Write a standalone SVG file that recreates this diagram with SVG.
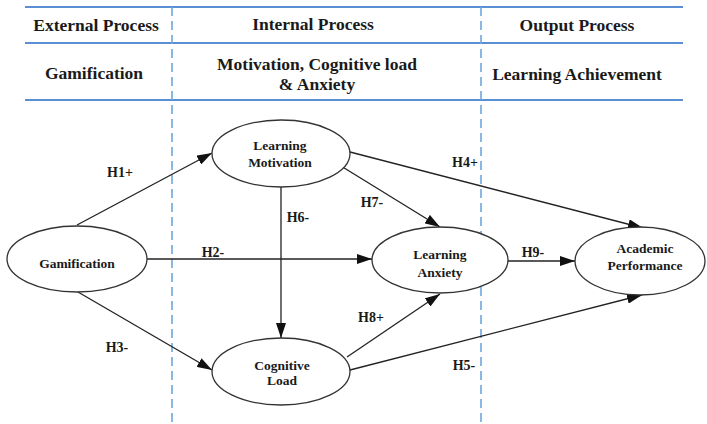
<svg xmlns="http://www.w3.org/2000/svg" width="707" height="424" viewBox="0 0 707 424">
  <style>
    .rule { stroke: #5b8fd4; stroke-width: 2; fill: none; }
    .divider { stroke: #6fa6dc; stroke-width: 1.6; stroke-dasharray: 9 5; fill: none; }
    text { font-family: 'Liberation Serif', 'DejaVu Serif', serif; font-weight: bold; fill: #1a1a1a; text-anchor: middle; }
    .head { font-size: 17.5px; }
    .node ellipse { fill: #ffffff; stroke: #333333; stroke-width: 1.3; }
    .node text { font-size: 13.5px; }
    .edge { stroke: #222222; stroke-width: 1.3; fill: none; marker-end: url(#arrow); }
    .lbl { font-size: 14px; }
  </style>
  <defs>
    <marker id="arrow" viewBox="0 0 15 10" refX="15" refY="5" markerWidth="15" markerHeight="10" markerUnits="userSpaceOnUse" orient="auto">
      <path d="M0,0 L15,5 L0,10 Z" fill="#111111"/>
    </marker>
  </defs>
  <rect width="707" height="424" fill="#ffffff"/>

  <!-- table rules and column titles -->
  <g id="table">
    <line class="rule" x1="25" y1="7" x2="683" y2="7"/>
    <line class="rule" x1="25" y1="43" x2="683" y2="43"/>
    <line class="rule" x1="25" y1="100" x2="683" y2="100"/>
    <line class="divider" x1="172" y1="7" x2="172" y2="424"/>
    <line class="divider" x1="481" y1="7" x2="481" y2="424"/>
    <text class="head" x="96" y="31">External Process</text>
    <text class="head" x="313" y="30">Internal Process</text>
    <text class="head" x="577" y="31">Output Process</text>
    <text class="head" x="94" y="79">Gamification</text>
    <text class="head" x="317" y="70">Motivation, Cognitive load</text>
    <text class="head" x="317" y="90">&amp; Anxiety</text>
    <text class="head" x="577" y="80">Learning Achievement</text>
  </g>

  <!-- connectors -->
  <g id="connectors">
    <line class="edge" x1="77" y1="225" x2="212" y2="153"/>
    <line class="edge" x1="146" y1="259" x2="372" y2="259"/>
    <line class="edge" x1="78" y1="292" x2="212" y2="370"/>
    <line class="edge" x1="281" y1="187" x2="281" y2="338"/>
    <line class="edge" x1="341" y1="166" x2="440" y2="227"/>
    <line class="edge" x1="350" y1="152" x2="643" y2="228"/>
    <line class="edge" x1="508" y1="261" x2="575" y2="261"/>
    <line class="edge" x1="347" y1="357" x2="440" y2="294"/>
    <line class="edge" x1="350" y1="370" x2="642" y2="295"/>
    <text class="lbl" x="120" y="177">H1+</text>
    <text class="lbl" x="213" y="257">H2-</text>
    <text class="lbl" x="117" y="352">H3-</text>
    <text class="lbl" x="465" y="167">H4+</text>
    <text class="lbl" x="464" y="370">H5-</text>
    <text class="lbl" x="298" y="222">H6-</text>
    <text class="lbl" x="372" y="207">H7-</text>
    <text class="lbl" x="371" y="322">H8+</text>
    <text class="lbl" x="533" y="257">H9-</text>
  </g>

  <g id="gamification" class="node">
    <ellipse cx="77" cy="259" rx="70" ry="33"/>
    <text x="77" y="268">Gamification</text>
  </g>
  <g id="learning-motivation" class="node">
    <ellipse cx="281" cy="153.5" rx="69" ry="33.5"/>
    <text x="280" y="150">Learning</text>
    <text x="280" y="167">Motivation</text>
  </g>
  <g id="cognitive-load" class="node">
    <ellipse cx="281" cy="371.5" rx="69" ry="33.5"/>
    <text x="282" y="370">Cognitive</text>
    <text x="282" y="385">Load</text>
  </g>
  <g id="learning-anxiety" class="node">
    <ellipse cx="440" cy="260" rx="68" ry="33"/>
    <text x="440" y="259">Learning</text>
    <text x="440" y="277">Anxiety</text>
  </g>
  <g id="academic-performance" class="node">
    <ellipse cx="640" cy="261" rx="65" ry="34"/>
    <text x="645" y="253">Academic</text>
    <text x="645" y="270">Performance</text>
  </g>
</svg>
